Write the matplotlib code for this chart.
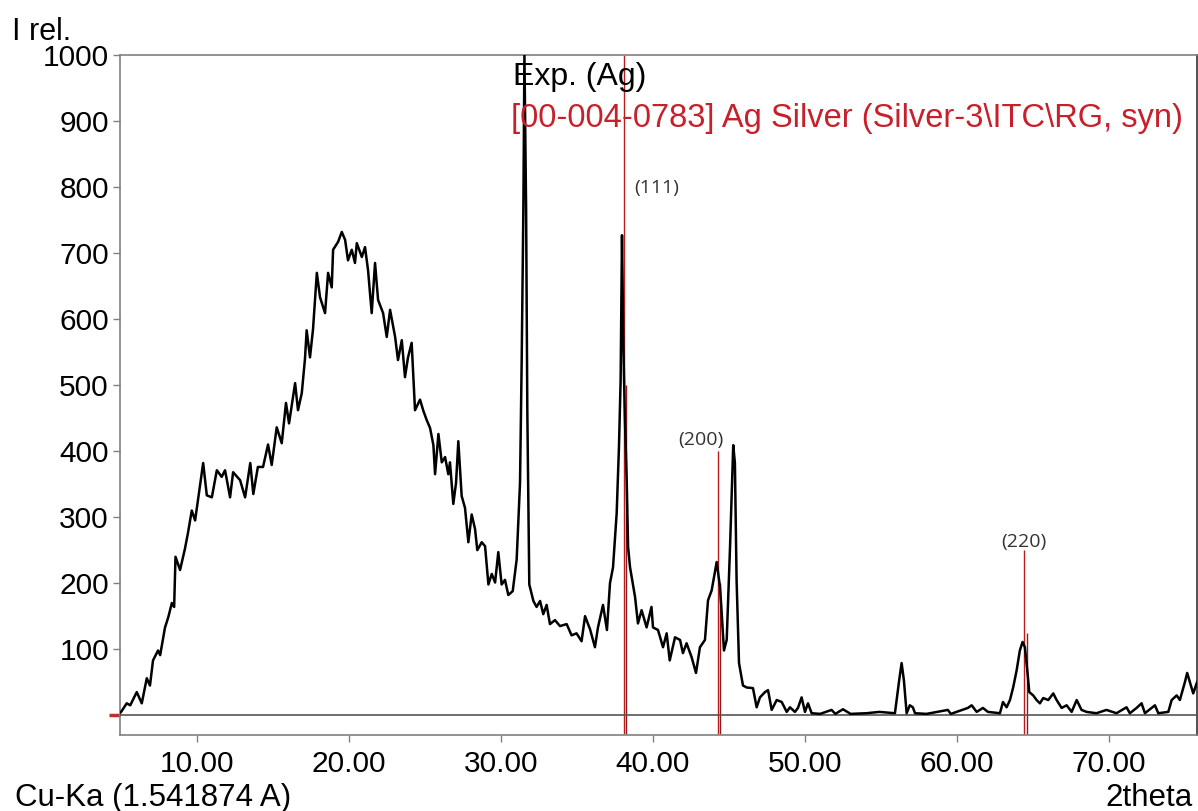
import matplotlib
matplotlib.use("Agg")
import matplotlib.pyplot as plt

two_theta = [
    4.95, 5.0, 5.37, 5.6, 6.03, 6.36, 6.69, 6.9, 7.1, 7.43, 7.57, 7.89, 8.1, 8.34, 8.49,
    8.58, 8.88, 9.2, 9.4, 9.65, 9.87, 10.07, 10.4, 10.64, 10.97, 11.3, 11.62, 11.84,
    12.17, 12.37, 12.83, 13.16, 13.5, 13.7, 14.0, 14.34, 14.67, 14.91, 15.24, 15.57,
    15.85, 16.05, 16.45, 16.64, 16.89, 17.1, 17.21, 17.43, 17.63, 17.88, 18.09, 18.42,
    18.62, 18.86, 18.95, 19.28, 19.52, 19.74, 19.93, 20.18, 20.39, 20.51, 20.84, 21.05,
    21.25, 21.49, 21.71, 21.91, 22.24, 22.48, 22.7, 23.03, 23.22, 23.47, 23.68, 23.88,
    24.12, 24.34, 24.67, 24.89, 25.11, 25.33, 25.55, 25.66, 25.88, 26.1, 26.32, 26.53,
    26.64, 26.86, 27.04, 27.19, 27.41, 27.63, 27.85, 28.07, 28.29, 28.44, 28.73, 28.95,
    29.17, 29.39, 29.61, 29.82, 30.04, 30.26, 30.48, 30.77, 31.03, 31.25, 31.36, 31.47,
    31.54, 31.65, 31.73, 31.86, 32.13, 32.34, 32.57, 32.78, 33.0, 33.22, 33.55, 33.88,
    34.32, 34.64, 34.97, 35.3, 35.53, 35.86, 36.18, 36.38, 36.71, 36.97, 37.17, 37.37,
    37.61, 37.76, 37.87, 37.96, 38.05, 38.15, 38.27, 38.36, 38.49, 38.82, 39.01, 39.25,
    39.58, 39.9, 40.0, 40.33, 40.66, 40.9, 41.1, 41.45, 41.78, 41.97, 42.21, 42.54,
    42.83, 43.09, 43.42, 43.62, 43.86, 44.19, 44.41, 44.52, 44.67, 44.85, 45.07, 45.24,
    45.28, 45.39, 45.5, 45.66, 45.92, 46.16, 46.58, 46.82, 47.04, 47.37, 47.57, 47.81,
    48.14, 48.47, 48.8, 49.01, 49.34, 49.54, 49.78, 50.0, 50.2, 50.44, 51.0, 51.75,
    52.0, 52.5, 53.0, 54.05, 54.9, 55.92, 56.2, 56.36, 56.51, 56.69, 56.9, 57.1, 57.24,
    58.0, 59.4, 59.6, 60.72, 60.97, 61.3, 61.71, 62.04, 62.83, 63.03, 63.27, 63.49,
    63.7, 63.93, 64.14, 64.32, 64.47, 64.63, 64.76, 65.02, 65.24, 65.46, 65.68, 66.01,
    66.34, 66.56, 66.89, 67.22, 67.55, 67.88, 68.2, 68.53, 69.18, 69.84, 70.5, 71.16,
    71.38, 71.82, 72.15, 72.37, 73.03, 73.25, 73.91, 74.13, 74.46, 74.67, 75.0, 75.15,
    75.33, 75.55, 75.8,
]
intensity = [
    4, 5, 18, 15, 35, 18, 56, 45, 83, 98, 91, 133, 148, 170, 164,
    240, 220, 252, 276, 310, 295, 328, 382, 333, 330, 371, 361, 371,
    330, 368, 356, 330, 382, 335, 376, 376, 410, 379, 436, 412,
    473, 442, 503, 462, 488, 540, 583, 542, 585, 670, 633, 609,
    670, 648, 705, 717, 732, 720, 689, 705, 685, 715, 694, 709,
    674, 609, 685, 629, 609, 573, 614, 573, 538, 568, 512, 542,
    564, 462, 478, 461, 447, 435, 409, 365, 426, 383, 391, 365,
    383, 320, 352, 415, 332, 314, 262, 304, 282, 250, 262, 256,
    198, 214, 201, 247, 198, 205, 182, 188, 236, 352, 538, 767,
    1000, 767, 461, 198, 173, 164, 173, 153, 167, 138, 144, 135,
    138, 121, 124, 112, 150, 130, 103, 133, 167, 129, 200, 224,
    306, 406, 507, 727, 560, 450, 356, 255, 224, 179, 139, 159,
    133, 164, 133, 129, 103, 124, 83, 118, 114, 94, 109, 88,
    64, 103, 114, 174, 189, 232, 194, 155, 98, 114, 255, 382,
    409, 382, 205, 79, 45, 42, 41, 12, 27, 35, 38, 8,
    23, 20, 5, 12, 5, 11, 27, 5, 18, 3, 2, 8,
    2, 9, 2, 3, 5, 3, 53, 79, 53, 3, 15, 12, 3,
    2, 8, 2, 11, 15, 5, 11, 5, 3, 20, 12, 23,
    42, 68, 98, 111, 103, 68, 35, 30, 23, 18, 26, 23,
    33, 23, 11, 15, 5, 23, 8, 5, 3, 8, 3, 12,
    3, 11, 18, 3, 15, 3, 5, 23, 30, 23, 50, 64,
    50, 33, 50,
]

# reference card 00-004-0783 (Ag), Ka1 and Ka2 lines
ref_ka1_pos = [38.12, 44.28, 64.43]
ref_ka1_int = [1000, 400, 250]
ref_ka2_pos = [38.21, 44.39, 64.60]
ref_ka2_int = [500, 200, 125]
hkl_labels = ["(111)", "(200)", "(220)"]
hkl_label_x = [40.25, 43.15, 64.4]
hkl_label_y = [798, 417, 262]

x_ticks = [10, 20, 30, 40, 50, 60, 70]
y_ticks = [100, 200, 300, 400, 500, 600, 700, 800, 900, 1000]

plt.rcParams["font.family"] = ["Liberation Sans", "DejaVu Sans"]

fig = plt.figure(figsize=(11.98, 8.11), dpi=100)
ax = fig.add_axes([0.1002, 0.0937, 0.899, 0.8385])

red = "#b81c1c"

# reference lines (below the baseline too)
ax.vlines(ref_ka1_pos, -28, ref_ka1_int, color=red, lw=1.0, zorder=2)
ax.vlines(ref_ka2_pos, -28, ref_ka2_int, color="#8e1a1a", lw=1.0, zorder=2)

# baseline
ax.axhline(0, color="#555555", lw=1.2, zorder=3)

# measured pattern
ax.plot(two_theta, intensity, color="black", lw=1.8, zorder=4)

for lab, lx, ly in zip(hkl_labels, hkl_label_x, hkl_label_y):
    ax.text(lx, ly, lab, fontsize=14, family=["Open Sans", "DejaVu Sans"],
            color="#333333", ha="center", va="center", zorder=5)

ax.set_xlim(4.93, 75.8)
ax.set_ylim(-30, 1000)

ax.set_xticks(x_ticks)
ax.set_xticklabels(["%.2f" % t for t in x_ticks])
ax.set_yticks(y_ticks)
ax.set_yticks([0], minor=True)

ax.tick_params(axis="both", which="major", labelsize=21.5, color="#808080",
               direction="out", length=5, width=1)
ax.tick_params(axis="x", which="major", pad=6)
ax.tick_params(axis="y", which="major", pad=3)
ax.tick_params(axis="y", which="minor", color="#c03030", length=8, width=2.5)
ax.tick_params(axis="x", which="minor", length=0)

for side in ["left", "top", "bottom"]:
    ax.spines[side].set_color("#808080")
    ax.spines[side].set_linewidth(1.2)
ax.spines["right"].set_color("#333333")
ax.spines["right"].set_linewidth(1.2)

# header / axis texts
fig.text(513 / 1198, 1 - 77 / 811, "Exp. (Ag)", fontsize=23, color="black",
         ha="left", va="center")
fig.text(511 / 1198, 1 - 119 / 811,
         "[00-004-0783] Ag Silver (Silver-3\\ITC\\RG, syn)",
         fontsize=23.5, color="#c8202a", ha="left", va="center")
fig.text(12 / 1198, 1 - 40 / 811, "I rel.", fontsize=22, ha="left", va="baseline")
fig.text(15 / 1198, 1 - 806 / 811, "Cu-Ka (1.541874 A)", fontsize=22.5,
         ha="left", va="baseline")
fig.text(1193 / 1198, 1 - 806 / 811, "2theta", fontsize=22.5, ha="right",
         va="baseline")

fig.savefig("out.png", dpi=100)
